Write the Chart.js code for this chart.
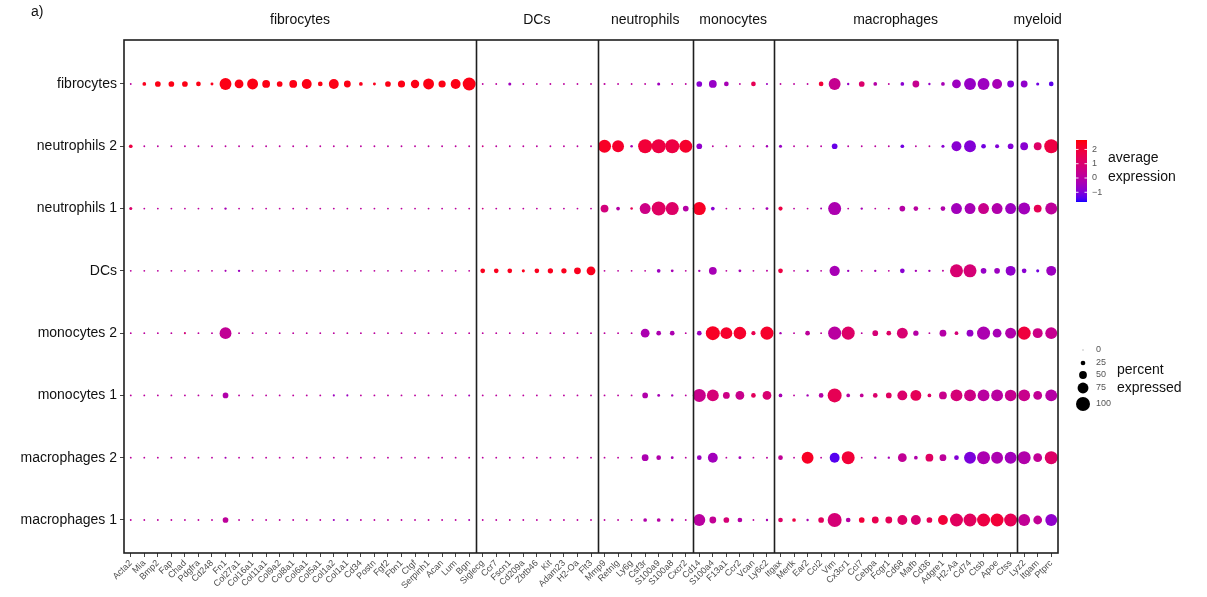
<!DOCTYPE html>
<html><head><meta charset="utf-8">
<script src="https://cdn.jsdelivr.net/npm/chart.js@4.4.1/dist/chart.umd.min.js"></script>
<style>html,body{margin:0;padding:0;background:#fff;overflow:hidden}canvas{display:block}</style>
</head><body>
<canvas id="c" width="1207" height="597"></canvas>
<script>
// ---------------- data ----------------
const rowNames = ['fibrocytes','neutrophils 2','neutrophils 1','DCs','monocytes 2','monocytes 1','macrophages 2','macrophages 1'];
const groupNames = ['fibrocytes','DCs','neutrophils','monocytes','macrophages','myeloid'];
const fibrocyteGenes = ['Acta2','Mia','Bmp2','Fap','Chad','Pdgfra','Cd248','Fn1','Col27a1','Col16a1','Col11a1','Col9a2','Col8a1','Col6a1','Col5a1','Col1a2','Col1a1','Cd34','Postn','Fgf2','Fbn1','Ctgf','Serpinh1','Acan','Lum','Bgn'];
const dcGenes = ['Siglecg','Ccr7','Fscn1','Cd209a','Zbtb46','Kit','Adam23','H2-Oa','Flt3'];
const neutrophilGenes = ['Mmp9','Retnlg','Ly6g','Csf3r','S100a9','S100a8','Cxcr2'];
const monocyteGenes = ['Cd14','S100a4','F13a1','Ccr2','Vcan','Ly6c2'];
const macrophageGenes = ['Itgax','Mertk','Ear2','Ccl2','Vim','Cx3cr1','Ccl7','Cebpa','Fcgr1','Cd68','Mafb','Cd36','Adgre1','H2-Aa','Cd74','Ctsb','Apoe','Ctss'];
const myeloidGenes = ['Lyz2','Itgam','Ptprc'];

const colourTicks = [2, 1, 0, -1];
const sizeBreaks = [0, 25, 50, 75, 100];

// percent expressed / average expression, one array per cell type (gene order as above)
const pctFibrocytes = [
 2,17,33,33,33,25,11,83,58,75,50,33,50,67,25,67,42,17,11,33,45,55,75,45,67,92,
 2,2,12,2,2,2,2,2,2,
 4,2,2,2,12,2,2,
 33,50,25,2,25,4,
 2,2,2,25,83,6,33,17,2,17,42,6,17,58,83,83,67,42,
 42,12,25];
const expFibrocytes = [
 0.1,2.4,2.5,2.5,2.5,2.5,2.4,2.5,2.5,2.5,2.5,2.5,2.5,2.5,2.5,2.5,2.5,2.4,2.4,2.5,2.5,2.5,2.5,2.5,2.5,2.5,
 0.1,0.1,-0.5,0.1,0.1,0.1,0.1,0.1,0.1,
 0.1,0.1,0.1,0.1,-0.5,0.1,0.1,
 -0.85,-0.65,-0.35,0.1,1.5,-0.55,
 0.1,0.1,0.1,2.0,0.35,-0.65,1.05,-0.05,0.1,-0.85,0.35,-0.65,-0.35,-0.55,-0.65,-0.55,-0.35,-0.95,
 -0.75,-1.15,-1.35];

const pctNeutrophils2 = [
 17,2,2,2,2,2,2,2,2,2,2,2,2,2,2,2,2,2,2,2,2,2,2,2,2,2,
 2,2,2,2,2,2,2,2,2,
 92,83,8,100,100,100,92,
 33,2,2,2,2,6,
 12,2,2,2,33,2,2,2,2,17,2,2,12,67,83,25,20,33,
 50,50,100];
const expNeutrophils2 = [
 1.8,0.1,0.1,0.1,0.1,0.1,0.1,0.1,0.1,0.1,0.1,0.1,0.1,0.1,0.1,0.1,0.1,0.1,0.1,0.1,0.1,0.1,0.1,0.1,0.1,0.1,
 0.6,0.1,0.1,0.1,0.1,0.1,0.1,0.1,0.1,
 2.3,2.2,-0.35,2.0,1.8,1.8,2.2,
 -0.75,0.1,0.1,0.1,0.1,-0.35,
 -0.65,0.1,0.1,0.1,-1.25,0.1,0.1,0.1,0.1,-1.15,0.1,0.1,-0.85,-0.85,-0.95,-1.15,-0.95,-0.95,
 -0.85,1.15,1.8];

const pctNeutrophils1 = [
 12,2,2,2,2,2,2,6,2,2,2,2,2,2,2,2,2,2,2,2,2,2,2,2,2,2,
 2,2,2,2,2,2,2,2,2,
 50,17,8,75,100,92,33,
 92,17,2,2,2,10,
 21,2,2,3,92,2,6,2,2,33,25,2,25,75,75,75,75,75,
 83,50,83];
const expNeutrophils1 = [
 1.05,0.1,0.1,0.1,0.1,0.1,0.1,-0.35,0.1,0.1,0.1,0.1,0.1,0.1,0.1,0.1,0.1,0.1,0.1,0.1,0.1,0.1,0.1,0.1,0.1,0.1,
 0.6,0.1,0.1,0.1,0.1,0.1,0.1,0.1,0.1,
 0.75,-0.05,1.5,0.55,1.25,1.15,-0.05,
 2.3,-0.85,0.1,0.1,0.1,-0.35,
 1.8,0.1,0.1,-0.35,-0.25,0.1,-0.35,0.1,0.1,-0.05,0.05,0.1,-0.15,-0.45,-0.35,0.45,-0.15,-0.55,
 -0.45,1.5,0.15];

const pctDCs = [
 2,2,2,2,2,2,2,4,6,2,2,2,2,2,2,2,2,2,2,2,2,2,2,2,2,2,
 25,25,25,12,25,30,30,42,58,
 2,2,2,2,17,10,2,
 6,50,2,10,2,3,
 25,2,6,2,70,6,2,6,2,25,6,6,3,92,92,33,33,67,
 25,12,67];
const expDCs = [
 0.1,0.1,0.1,0.1,0.1,0.1,0.1,-0.35,-0.55,0.1,0.1,0.1,0.1,0.1,0.1,0.1,0.1,0.1,0.1,0.1,0.1,0.1,0.1,0.1,0.1,0.1,
 2.4,2.4,2.4,2.4,2.4,2.4,2.4,2.4,2.4,
 0.1,0.1,0.1,0.1,-0.55,-0.35,0.1,
 -0.35,-0.35,0.1,-0.35,0.1,0.1,
 1.8,0.1,-0.35,0.1,-0.35,-0.55,0.1,-0.35,0.1,-0.85,-0.35,-0.35,0.1,0.95,0.85,-0.65,-0.55,-0.75,
 -0.85,-1.15,-0.55];

const pctMonocytes2 = [
 2,2,2,2,4,2,2,83,2,2,2,2,2,2,2,2,2,2,2,2,2,2,2,2,2,2,
 2,2,2,2,2,2,2,2,2,
 2,2,2,58,25,25,2,
 25,100,83,88,21,92,
 6,2,25,2,92,92,2,33,25,75,30,2,42,17,42,92,58,75,
 92,67,83];
const expMonocytes2 = [
 0.1,0.1,0.1,0.1,0.8,0.1,0.1,0.25,0.1,0.1,0.1,0.1,0.1,0.1,0.1,0.1,0.1,0.1,0.1,0.1,0.1,0.1,0.1,0.1,0.1,0.1,
 0.1,0.1,0.1,0.1,0.1,0.1,0.1,0.1,0.1,
 0.1,0.1,0.1,-0.25,-0.25,-0.25,0.1,
 -0.55,2.3,2.2,2.2,1.6,2.2,
 -0.35,0.1,0.15,0.1,0.05,1.15,0.1,0.85,1.15,0.95,-0.05,0.1,-0.05,0.85,-0.65,-0.25,-0.35,-0.15,
 1.9,0.55,0.35];

const pctMonocytes1 = [
 2,2,2,2,2,2,2,33,2,2,2,2,2,2,2,4,4,2,2,2,2,2,2,2,2,3,
 2,2,2,2,2,2,2,2,2,
 2,2,2,33,10,6,2,
 92,83,42,58,25,58,
 17,2,6,25,100,17,17,25,33,67,75,17,50,83,83,83,83,80,
 83,58,83];
const expMonocytes1 = [
 0.1,0.1,0.1,0.1,0.1,0.1,0.1,-0.15,0.1,0.1,0.1,0.1,0.1,0.1,0.1,-0.55,-0.55,0.1,0.1,0.1,0.1,0.1,0.1,0.1,0.1,-0.35,
 0.1,0.1,0.1,0.1,0.1,0.1,0.1,0.1,0.1,
 0.1,0.1,0.1,-0.15,-0.35,-0.35,0.1,
 0.45,0.85,0.55,0.45,1.35,0.95,
 -0.35,0.1,-0.35,-0.05,1.5,-0.05,0.25,1.05,1.25,1.05,1.45,1.15,0.45,0.85,0.55,0.05,0.05,0.35,
 0.45,0.25,-0.05];

const pctMacrophages2 = [
 2,2,2,2,2,2,2,4,2,2,2,2,2,2,2,2,2,2,2,2,2,2,2,2,2,2,
 2,2,2,2,2,2,2,2,2,
 2,2,2,42,25,10,2,
 25,67,2,10,2,3,
 25,2,83,2,67,92,2,6,6,58,17,50,42,25,83,92,83,83,
 92,58,92];
const expMacrophages2 = [
 0.1,0.1,0.1,0.1,0.1,0.1,0.1,-0.35,0.1,0.1,0.1,0.1,0.1,0.1,0.1,0.1,0.1,0.1,0.1,0.1,0.1,0.1,0.1,0.1,0.1,0.1,
 0.1,0.1,0.1,0.1,0.1,0.1,0.1,0.1,0.1,
 0.1,0.1,0.1,-0.25,-0.15,-0.35,0.1,
 -0.55,-0.45,0.1,-0.35,0.1,0.1,
 0.25,0.1,2.3,0.1,-1.4,2.0,0.1,-0.35,-0.35,0.25,-0.15,1.25,0.15,-0.95,-1.05,-0.25,-0.25,-0.45,
 -0.15,0.25,1.15];

const pctMacrophages1 = [
 2,2,2,2,2,2,2,33,2,2,2,2,2,2,2,4,4,2,2,2,2,2,2,2,2,3,
 2,2,2,2,2,2,2,2,2,
 2,2,2,17,17,10,2,
 83,42,33,25,2,6,
 25,17,6,33,100,25,33,42,42,67,67,33,67,92,92,92,92,92,
 83,58,83];
const expMacrophages1 = [
 0.1,0.1,0.1,0.1,0.1,0.1,0.1,0.15,0.1,0.1,0.1,0.1,0.1,0.1,0.1,-0.55,-0.55,0.1,0.1,0.1,0.1,0.1,0.1,0.1,0.1,-0.35,
 0.1,0.1,0.1,0.1,0.1,0.1,0.1,0.1,0.1,
 0.1,0.1,0.1,-0.15,-0.05,-0.15,0.1,
 0.05,0.25,0.85,-0.05,0.1,-0.35,
 1.15,1.8,-0.35,1.35,0.85,-0.05,2.0,1.6,1.45,1.15,0.95,1.45,2.0,1.3,1.3,1.8,2.0,1.5,
 0.25,0.25,-0.75];

// ---------------- build ----------------
const groupGeneLists = [fibrocyteGenes, dcGenes, neutrophilGenes, monocyteGenes, macrophageGenes, myeloidGenes];
const genes = [].concat(...groupGeneLists);
const pctRows = [pctFibrocytes, pctNeutrophils2, pctNeutrophils1, pctDCs, pctMonocytes2, pctMonocytes1, pctMacrophages2, pctMacrophages1];
const expRows = [expFibrocytes, expNeutrophils2, expNeutrophils1, expDCs, expMonocytes2, expMonocytes1, expMacrophages2, expMacrophages1];

const groupBounds = [];
const groupCentres = [];
{ let start = 0; groupGeneLists.forEach(g => { groupCentres.push(start + (g.length - 1) / 2); start += g.length; groupBounds.push(start - 0.5); }); groupBounds.pop(); }

// colour scale (blue -> red, Lab interpolation like ggplot)
const cMin = -1.68, cMax = 2.66;
function toLin(c){ c/=255; return c<=0.04045 ? c/12.92 : Math.pow((c+0.055)/1.055,2.4); }
function toLab(r,g,b){
  r=toLin(r); g=toLin(g); b=toLin(b);
  let X=(0.4124564*r+0.3575761*g+0.1804375*b)/0.95047, Y=(0.2126729*r+0.7151522*g+0.0721750*b), Z=(0.0193339*r+0.1191920*g+0.9503041*b)/1.08883;
  const f=t=> t>0.008856 ? Math.cbrt(t) : 7.787*t+16/116;
  const fx=f(X), fy=f(Y), fz=f(Z);
  return [116*fy-16, 500*(fx-fy), 200*(fy-fz)];
}
function fromLab(L,a,bb){
  const fy=(L+16)/116, fx=fy+a/500, fz=fy-bb/200;
  const fi=t=>{const t3=t*t*t; return t3>0.008856 ? t3 : (t-16/116)/7.787;};
  const X=0.95047*fi(fx), Y=fi(fy), Z=1.08883*fi(fz);
  let r=3.2404542*X-1.5371385*Y-0.4985314*Z, g=-0.9692660*X+1.8760108*Y+0.0415560*Z, b=0.0556434*X-0.2040259*Y+1.0572252*Z;
  const gm=c=>{ c = c<=0.0031308 ? 12.92*c : 1.055*Math.pow(Math.max(c,0),1/2.4)-0.055; return Math.round(Math.max(0,Math.min(1,c))*255); };
  return `rgb(${gm(r)},${gm(g)},${gm(b)})`;
}
const labLow = toLab(0,0,255), labHigh = toLab(255,0,0);
function colourFor(v){
  let t=(v-cMin)/(cMax-cMin); t=Math.max(0,Math.min(1,t));
  return fromLab(labLow[0]+(labHigh[0]-labLow[0])*t, labLow[1]+(labHigh[1]-labLow[1])*t, labLow[2]+(labHigh[2]-labLow[2])*t);
}
function radiusFor(p){ return 0.8 + 0.062*p; }

const datasets = rowNames.map((name, ri) => ({
  label: name,
  data: genes.map((g, gi) => ({x: gi, y: ri, pct: pctRows[ri][gi], avg: expRows[ri][gi]})),
  pointRadius: c => c.raw ? radiusFor(c.raw.pct) : 2,
  pointHoverRadius: c => c.raw ? radiusFor(c.raw.pct) : 2,
  pointBackgroundColor: c => c.raw ? colourFor(c.raw.avg) : '#888',
  pointBorderWidth: 0,
  pointBorderColor: 'rgba(0,0,0,0)'
}));

const FONT = "'Liberation Sans', Arial, sans-serif";
Chart.defaults.font.family = FONT;

const extras = {
  id: 'extras',
  afterDatasetsDraw(chart){
    const {ctx, chartArea:a, scales:{x}} = chart;
    ctx.save();
    ctx.strokeStyle = '#1e1e1e'; ctx.lineWidth = 1.6;
    groupBounds.forEach(b => { const px = Math.round(x.getPixelForValue(b)) + 0.5; ctx.beginPath(); ctx.moveTo(px, a.top); ctx.lineTo(px, a.bottom); ctx.stroke(); });
    ctx.strokeRect(a.left, a.top, a.right - a.left, a.bottom - a.top);
    ctx.restore();
  },
  afterDraw(chart){
    const ctx = chart.ctx;
    ctx.save();
    ctx.fillStyle = '#111'; ctx.font = `14px ${FONT}`; ctx.textBaseline = 'middle'; ctx.textAlign = 'left';
    ctx.fillText('a)', 31, 12);
    // colour bar
    const bx = 1076, bw = 11, bt = 140, bb = 202;
    for (let yy = bt; yy < bb; yy++) {
      const v = cMax - (yy + 0.5 - bt) / (bb - bt) * (cMax - cMin);
      ctx.fillStyle = colourFor(v); ctx.fillRect(bx, yy, bw, 1);
    }
    ctx.font = `9px ${FONT}`;
    colourTicks.forEach(v => {
      const yy = bt + (cMax - v) / (cMax - cMin) * (bb - bt);
      ctx.strokeStyle = 'rgba(255,255,255,0.9)'; ctx.lineWidth = 1;
      ctx.beginPath(); ctx.moveTo(bx, yy); ctx.lineTo(bx + 2.5, yy); ctx.moveTo(bx + bw - 2.5, yy); ctx.lineTo(bx + bw, yy); ctx.stroke();
      ctx.fillStyle = '#555';
      ctx.fillText(v < 0 ? '\u2212' + Math.abs(v) : String(v), bx + bw + 5, yy);
    });
    ctx.fillStyle = '#111'; ctx.font = `14px ${FONT}`;
    ctx.fillText('average', 1108, 158);
    ctx.fillText('expression', 1108, 177);
    // size legend
    const sy = [350, 363, 375, 388, 404];
    sizeBreaks.forEach((p, i) => {
      ctx.fillStyle = p === 0 ? '#bbb' : '#000';
      ctx.beginPath(); ctx.arc(1083, sy[i], radiusFor(p), 0, Math.PI * 2); ctx.fill();
      ctx.fillStyle = '#555'; ctx.font = `9px ${FONT}`;
      ctx.fillText(String(p), 1096, sy[i]);
    });
    ctx.fillStyle = '#111'; ctx.font = `14px ${FONT}`;
    ctx.fillText('percent', 1117, 370);
    ctx.fillText('expressed', 1117, 388);
    ctx.restore();
  }
};

new Chart(document.getElementById('c'), {
  type: 'scatter',
  data: { datasets },
  options: {
    responsive: false, animation: false,
    layout: { padding: { left: 0, right: 149, top: 0, bottom: 0 } },
    plugins: { legend: { display: false }, tooltip: { enabled: false } },
    scales: {
      x: {
        type: 'linear', position: 'bottom', min: -0.5, max: 68.5,
        afterBuildTicks: s => { s.ticks = genes.map((g, i) => ({ value: i })); },
        afterFit: s => { s.height = 44; },
        ticks: { autoSkip: false, maxRotation: 45, minRotation: 45, padding: 1, color: '#4d4d4d', font: { size: 9 }, callback: v => genes[v] },
        grid: { drawOnChartArea: false, drawTicks: true, tickLength: 4, tickColor: '#444', tickWidth: 1 },
        border: { display: false }
      },
      xTop: {
        type: 'linear', axis: 'x', position: 'top', min: -0.5, max: 68.5,
        afterBuildTicks: s => { s.ticks = groupCentres.map(v => ({ value: v })); },
        afterFit: s => { s.height = 40; },
        ticks: { autoSkip: false, maxRotation: 0, minRotation: 0, padding: 11, color: '#111', font: { size: 14 }, callback: (v, i) => groupNames[i] },
        grid: { display: false, drawTicks: false },
        border: { display: false }
      },
      y: {
        type: 'linear', reverse: true, min: -0.706, max: 7.53,
        afterBuildTicks: s => { s.ticks = rowNames.map((r, i) => ({ value: i })); },
        afterFit: s => { s.width = 124; },
        ticks: { padding: 3, color: '#111', font: { size: 14 }, callback: v => rowNames[v] },
        grid: { drawOnChartArea: false, drawTicks: true, tickLength: 4, tickColor: '#444' },
        border: { display: false }
      }
    }
  },
  plugins: [extras]
});
</script></body></html>
